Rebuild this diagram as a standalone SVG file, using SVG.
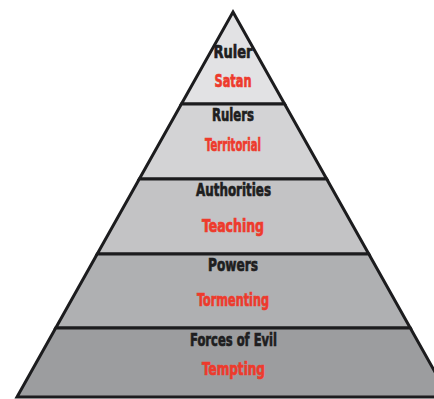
<svg xmlns="http://www.w3.org/2000/svg" width="434" height="399" viewBox="0 0 434 399">
<style>
.band{stroke:#1c1c1e;stroke-width:3;stroke-linejoin:miter}
.t{font-family:"DejaVu Sans Condensed","Liberation Sans Narrow","Liberation Sans",sans-serif;font-weight:bold;font-size:18.5px;text-anchor:middle;stroke-width:0.7px}
.k{fill:#1e1e20;stroke:#1e1e20}
.r{fill:#ee3a2c;stroke:#ee3a2c}
</style>
<rect width="434" height="399" fill="#ffffff"/>
<g id="tier-ruler">
<polygon class="band" fill="#e2e2e4" points="233,12 284.6,104 181.4,104"/>
<text class="t k" x="233" y="58" textLength="39" lengthAdjust="spacingAndGlyphs">Ruler</text>
<text class="t r" x="233" y="87" textLength="37" lengthAdjust="spacingAndGlyphs">Satan</text>
</g>
<g id="tier-rulers">
<polygon class="band" fill="#d3d3d5" points="181.4,104 284.6,104 326.7,179 139.3,179"/>
<text class="t k" x="233" y="121" textLength="42" lengthAdjust="spacingAndGlyphs">Rulers</text>
<text class="t r" x="233" y="151" textLength="56" lengthAdjust="spacingAndGlyphs">Territorial</text>
</g>
<g id="tier-authorities">
<polygon class="band" fill="#c3c3c5" points="139.3,179 326.7,179 368.8,254 97.2,254"/>
<text class="t k" x="233.5" y="196" textLength="75" lengthAdjust="spacingAndGlyphs">Authorities</text>
<text class="t r" x="233" y="232" textLength="62" lengthAdjust="spacingAndGlyphs">Teaching</text>
</g>
<g id="tier-powers">
<polygon class="band" fill="#afb0b2" points="97.2,254 368.8,254 410.3,328 55.7,328"/>
<text class="t k" x="233" y="271" textLength="50" lengthAdjust="spacingAndGlyphs">Powers</text>
<text class="t r" x="233" y="306" textLength="72" lengthAdjust="spacingAndGlyphs">Tormenting</text>
</g>
<g id="tier-forces">
<polygon class="band" fill="#9c9d9f" points="55.7,328 410.3,328 449,397 17,397"/>
<text class="t k" x="233.5" y="346" textLength="87" lengthAdjust="spacingAndGlyphs">Forces of Evil</text>
<text class="t r" x="233.5" y="375" textLength="63" lengthAdjust="spacingAndGlyphs">Tempting</text>
</g>
<g id="connectors"></g>
</svg>
